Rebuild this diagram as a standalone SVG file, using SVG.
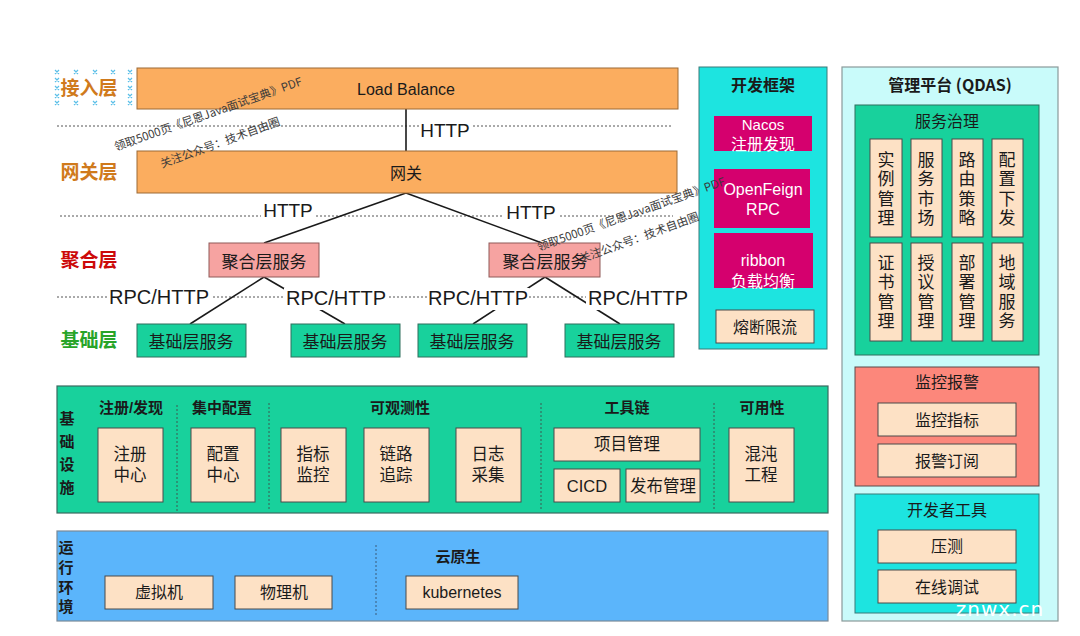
<svg xmlns="http://www.w3.org/2000/svg" width="1080" height="636" viewBox="0 0 1080 636">
<defs>
<style>
text{font-family:"Liberation Sans","Noto Sans CJK SC",sans-serif;text-anchor:middle;dominant-baseline:central;fill:#1a1a1a}
.cn{font-family:"Noto Sans CJK SC","Liberation Sans",sans-serif}
.b{font-weight:bold}
.orange{fill:#fbad5f;stroke:#9c6a36;stroke-width:1}
.pink{fill:#f6a3a1;stroke:#8f5a58;stroke-width:1}
.green{fill:#18d19c;stroke:#2f6f5c;stroke-width:1}
.peach{fill:#fde1c5;stroke:#4a4a4a;stroke-width:1}
.mag{fill:#d5006e;stroke:none}
.cyan{fill:#1de4e0;stroke:#3a7a78;stroke-width:1}
.dash{stroke:#555;stroke-width:1;stroke-dasharray:2 2;fill:none}
.dot{stroke:#3a5a50;stroke-width:1;stroke-dasharray:2 2;fill:none}
.conn{stroke:#1a1a1a;stroke-width:1.6;fill:none}
.lbl{font-size:20px}
.wm{font-family:"Noto Sans CJK SC","Liberation Sans",sans-serif;font-size:11.5px;fill:#3a3a3a;text-anchor:start;dominant-baseline:auto}
.mk{stroke:#5bbfe8;stroke-width:1.2}
.white{fill:#ffffff}
</style>
</defs>
<rect x="0" y="0" width="1080" height="636" fill="#ffffff"/>

<!-- selection marks -->
<g id="marks" class="mk">
<path d="M55 70l4 4M59 70l-4 4M74 70l4 4M78 70l-4 4M93 70l4 4M97 70l-4 4M111 70l4 4M115 70l-4 4M128 70l4 4M132 70l-4 4"/>
<path d="M55 78l4 4M59 78l-4 4M128 78l4 4M132 78l-4 4M55 86l4 4M59 86l-4 4M128 86l4 4M132 86l-4 4M55 94l4 4M59 94l-4 4M128 94l4 4M132 94l-4 4"/>
<path d="M55 101l4 4M59 101l-4 4M74 101l4 4M78 101l-4 4M93 101l4 4M97 101l-4 4M111 101l4 4M115 101l-4 4M128 101l4 4M132 101l-4 4"/>
</g>

<!-- layer labels -->
<g id="layer-labels" class="cn b" font-size="19">
<text x="89" y="88" style="fill:#d07a1c">接入层</text>
<text x="89" y="172" style="fill:#d07a1c">网关层</text>
<text x="89" y="260" style="fill:#cc0a0a">聚合层</text>
<text x="89" y="340" style="fill:#28a428">基础层</text>
</g>

<!-- dashed separators -->
<g id="separators">
<line class="dash" x1="57" y1="126" x2="673" y2="126"/>
<line class="dash" x1="60" y1="216" x2="673" y2="216"/>
<line class="dash" x1="57" y1="297" x2="688" y2="297"/>
</g>

<!-- connectors -->
<g id="connectors">
<line class="conn" x1="406" y1="109" x2="406" y2="151"/>
<line class="conn" x1="406" y1="193" x2="264" y2="243"/>
<line class="conn" x1="406" y1="193" x2="542" y2="243"/>
<line class="conn" x1="264" y1="277" x2="190" y2="324"/>
<line class="conn" x1="264" y1="277" x2="345" y2="324"/>
<line class="conn" x1="545" y1="277" x2="473" y2="324"/>
<line class="conn" x1="545" y1="277" x2="620" y2="324"/>
</g>

<!-- connector labels -->
<g id="connector-labels" class="lbl">
<rect x="419" y="120" width="54" height="20" fill="#fff"/>
<text x="445" y="130" font-size="19">HTTP</text>
<rect x="261" y="200" width="54" height="20" fill="#fff"/>
<text x="288" y="210" font-size="19">HTTP</text>
<rect x="504" y="202" width="54" height="20" fill="#fff"/>
<text x="531" y="212" font-size="19">HTTP</text>
<rect x="107" y="287" width="104" height="20" fill="#fff"/>
<text x="159" y="297">RPC/HTTP</text>
<rect x="284" y="288" width="104" height="22" fill="#fff"/>
<text x="336" y="298">RPC/HTTP</text>
<rect x="427" y="288" width="102" height="22" fill="#fff"/>
<text x="478" y="298">RPC/HTTP</text>
<rect x="586" y="288" width="104" height="22" fill="#fff"/>
<text x="638" y="298">RPC/HTTP</text>
</g>

<!-- access layer -->
<g id="load-balance">
<rect class="orange" x="137" y="68" width="541" height="41"/>
<text x="406" y="89" font-size="16">Load Balance</text>
</g>
<g id="gateway">
<rect class="orange" x="137" y="151" width="540" height="42"/>
<text class="cn" x="406" y="172" font-size="16">网关</text>
</g>
<g id="agg-1">
<rect class="pink" x="209" y="243" width="110" height="34"/>
<text class="cn" x="264" y="260" font-size="17">聚合层服务</text>
</g>
<g id="agg-2">
<rect class="pink" x="489" y="243" width="111" height="34"/>
<text class="cn" x="545" y="260" font-size="17">聚合层服务</text>
</g>
<g id="base-1"><rect class="green" x="137" y="324" width="109" height="33"/><text class="cn" x="191" y="340" font-size="17">基础层服务</text></g>
<g id="base-2"><rect class="green" x="291" y="324" width="109" height="33"/><text class="cn" x="345" y="340" font-size="17">基础层服务</text></g>
<g id="base-3"><rect class="green" x="418" y="324" width="109" height="33"/><text class="cn" x="472" y="340" font-size="17">基础层服务</text></g>
<g id="base-4"><rect class="green" x="565" y="324" width="109" height="33"/><text class="cn" x="619" y="340" font-size="17">基础层服务</text></g>

<!-- dev framework -->
<g id="dev-framework">
<rect class="cyan" x="699" y="67" width="128" height="282"/>
<text class="cn b" x="763" y="84" font-size="16">开发框架</text>
<rect class="mag" x="714" y="116" width="98" height="35"/>
<text class="white" x="763" y="124" font-size="15">Nacos</text>
<text class="cn white" x="763" y="143" font-size="16">注册发现</text>
<rect class="mag" x="714" y="169" width="96" height="59"/>
<text class="white" x="763" y="189" font-size="16">OpenFeign</text>
<text class="white" x="763" y="209" font-size="16">RPC</text>
<rect class="mag" x="714" y="233" width="99" height="55"/>
<text class="white" x="763" y="260" font-size="16">ribbon</text>
<text class="cn white" x="763" y="280" font-size="16">负载均衡</text>
<rect class="peach" x="716" y="310" width="98" height="33"/>
<text class="cn" x="765" y="326" font-size="16">熔断限流</text>
</g>

<!-- management platform -->
<g id="mgmt">
<rect x="842" y="67" width="216" height="554" fill="#c9fbfa" stroke="#8a9a9a" stroke-width="1.2"/>
<text class="cn b" x="950" y="84" font-size="16">管理平台 (QDAS)</text>
</g>
<g id="svc-gov" class="cn">
<rect class="green" x="855" y="105" width="184" height="250"/>
<text x="947" y="121" font-size="16">服务治理</text>
<g font-size="17">
<rect class="peach" x="870" y="139" width="32" height="98"/>
<text x="886" y="160">实</text><text x="886" y="179">例</text><text x="886" y="199">管</text><text x="886" y="218">理</text>
<rect class="peach" x="911" y="139" width="31" height="98"/>
<text x="926" y="160">服</text><text x="926" y="179">务</text><text x="926" y="199">市</text><text x="926" y="218">场</text>
<rect class="peach" x="952" y="139" width="31" height="98"/>
<text x="967" y="160">路</text><text x="967" y="179">由</text><text x="967" y="199">策</text><text x="967" y="218">略</text>
<rect class="peach" x="992" y="139" width="31" height="98"/>
<text x="1007" y="160">配</text><text x="1007" y="179">置</text><text x="1007" y="199">下</text><text x="1007" y="218">发</text>
<rect class="peach" x="870" y="243" width="32" height="98"/>
<text x="886" y="263">证</text><text x="886" y="282">书</text><text x="886" y="302">管</text><text x="886" y="321">理</text>
<rect class="peach" x="911" y="243" width="31" height="98"/>
<text x="926" y="263">授</text><text x="926" y="282">议</text><text x="926" y="302">管</text><text x="926" y="321">理</text>
<rect class="peach" x="952" y="243" width="31" height="98"/>
<text x="967" y="263">部</text><text x="967" y="282">署</text><text x="967" y="302">管</text><text x="967" y="321">理</text>
<rect class="peach" x="992" y="243" width="31" height="98"/>
<text x="1007" y="263">地</text><text x="1007" y="282">域</text><text x="1007" y="302">服</text><text x="1007" y="321">务</text>
</g>
</g>
<g id="monitor" class="cn">
<rect x="855" y="367" width="184" height="119" fill="#fc877b" stroke="#5a4a4a" stroke-width="1"/>
<text x="947" y="382" font-size="16">监控报警</text>
<rect class="peach" x="878" y="403" width="138" height="33"/>
<text x="947" y="420" font-size="16">监控指标</text>
<rect class="peach" x="878" y="444" width="138" height="33"/>
<text x="947" y="461" font-size="16">报警订阅</text>
</g>
<g id="devtools" class="cn">
<rect class="cyan" x="855" y="494" width="184" height="119"/>
<text x="947" y="510" font-size="16">开发者工具</text>
<rect class="peach" x="878" y="530" width="138" height="33"/>
<text x="947" y="546" font-size="16">压测</text>
<rect class="peach" x="878" y="570" width="138" height="33"/>
<text x="947" y="587" font-size="16">在线调试</text>
</g>

<!-- infrastructure -->
<g id="infra" class="cn">
<rect x="57" y="386" width="771" height="127" fill="#18d19c" stroke="#3a6a60" stroke-width="1.2"/>
<g class="b" font-size="15">
<text x="67" y="418">基</text><text x="67" y="441">础</text><text x="67" y="464">设</text><text x="67" y="487">施</text>
<text x="131" y="407">注册/发现</text>
<text x="222" y="407">集中配置</text>
<text x="400" y="407">可观测性</text>
<text x="627" y="407">工具链</text>
<text x="762" y="407">可用性</text>
</g>
<line class="dot" x1="177" y1="405" x2="177" y2="512"/>
<line class="dot" x1="269" y1="403" x2="269" y2="510"/>
<line class="dot" x1="541" y1="403" x2="541" y2="510"/>
<line class="dot" x1="714" y1="403" x2="714" y2="510"/>
<g font-size="16.5">
<rect class="peach" x="98" y="428" width="65" height="74"/>
<text x="130" y="454">注册</text><text x="130" y="475">中心</text>
<rect class="peach" x="191" y="428" width="64" height="74"/>
<text x="223" y="454">配置</text><text x="223" y="475">中心</text>
<rect class="peach" x="281" y="428" width="65" height="74"/>
<text x="313" y="454">指标</text><text x="313" y="475">监控</text>
<rect class="peach" x="364" y="428" width="65" height="74"/>
<text x="396" y="454">链路</text><text x="396" y="475">追踪</text>
<rect class="peach" x="456" y="428" width="65" height="74"/>
<text x="488" y="454">日志</text><text x="488" y="475">采集</text>
<rect class="peach" x="554" y="428" width="146" height="33"/>
<text x="627" y="444">项目管理</text>
<rect class="peach" x="554" y="469" width="66" height="33"/>
<text x="587" y="486" style="font-family:'Liberation Sans',sans-serif">CICD</text>
<rect class="peach" x="626" y="469" width="74" height="33"/>
<text x="663" y="486">发布管理</text>
<rect class="peach" x="729" y="428" width="65" height="74"/>
<text x="761" y="454">混沌</text><text x="761" y="475">工程</text>
</g>
</g>

<!-- runtime -->
<g id="runtime" class="cn">
<rect x="57" y="531" width="771" height="90" fill="#5bb5fb" stroke="#7a8a98" stroke-width="1.2"/>
<g class="b" font-size="15">
<text x="66" y="547">运</text><text x="66" y="567">行</text><text x="66" y="587">环</text><text x="66" y="606">境</text>
<text x="458" y="556">云原生</text>
</g>
<line class="dot" x1="376" y1="545" x2="376" y2="615" style="stroke:#3a5a7a"/>
<rect class="peach" x="105" y="576" width="108" height="33"/>
<text x="159" y="592" font-size="16">虚拟机</text>
<rect class="peach" x="235" y="576" width="97" height="33"/>
<text x="284" y="592" font-size="16">物理机</text>
<rect class="peach" x="406" y="576" width="112" height="33"/>
<text x="462" y="592" font-size="16" style="font-family:'Liberation Sans',sans-serif">kubernetes</text>
</g>

<!-- watermarks -->
<g id="watermarks">
<text class="wm" transform="translate(116,151) rotate(-19.5)">领取5000页《尼恩Java面试宝典》PDF</text>
<text class="wm" transform="translate(162,168) rotate(-20)">关注公众号：技术自由圈</text>
<text class="wm" transform="translate(539,251) rotate(-19.5)">领取5000页《尼恩Java面试宝典》PDF</text>
<text class="wm" transform="translate(581,263) rotate(-20)">关注公众号：技术自由圈</text>
<text x="1000" y="609" font-size="20" style="fill:#ffffff;font-family:'DejaVu Sans',sans-serif;letter-spacing:1px">znwx.cn</text>
</g>
</svg>
